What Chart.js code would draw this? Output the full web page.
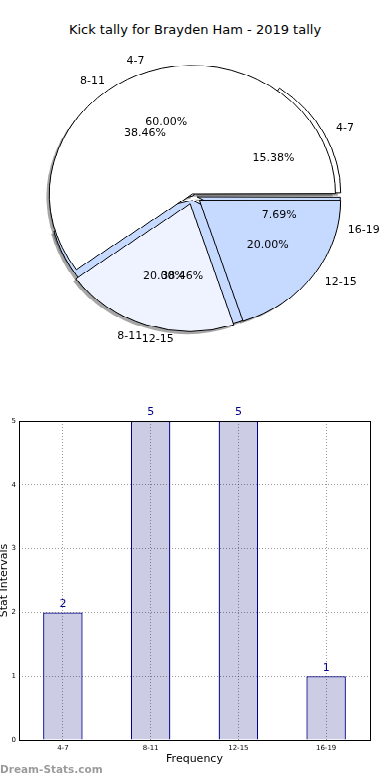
<!DOCTYPE html>
<html><head><meta charset="utf-8">
<script src="https://cdn.jsdelivr.net/npm/chart.js@4"></script>
<style>
html,body{margin:0;padding:0;background:#fff;width:390px;height:780px;overflow:hidden;position:relative;font-family:'DejaVu Sans',sans-serif}
#title{position:absolute;top:22px;left:0;width:390px;text-align:center;font-size:13px;color:#000;line-height:16px;white-space:nowrap}
#pieWrap{position:absolute;left:0;top:43px;width:390px;height:340px;transform:scaleY(0.9);transform-origin:0 0}
#pieWrap canvas{position:absolute;left:0;top:0}
#pieText{position:absolute;left:0;top:0}
#barCanvas{position:absolute;left:0;top:390px}
#wm{position:absolute;left:0;top:763px;font:bold 10.5px 'DejaVu Sans';color:rgba(0,0,0,0.4);white-space:nowrap}
</style></head>
<body>
<div id="title"></div>
<div id="pieWrap">
<canvas id="shadow1" width="390" height="340"></canvas>
<canvas id="shadow2" width="390" height="340"></canvas>
<canvas id="pie1" width="390" height="340"></canvas>
<canvas id="pie2" width="390" height="340"></canvas>
</div>
<canvas id="pieText" width="390" height="380"></canvas>
<canvas id="barCanvas" width="390" height="390"></canvas>
<div id="wm"></div>
<script>
// ---- data ----
const chartTitle = 'Kick tally for Brayden Ham - 2019 tally';
const categories = ['4-7', '8-11', '12-15', '16-19'];
const kickCounts = [2, 5, 5, 1];
const pie2Labels = ['4-7', '8-11', '12-15'];
const pie2Values = [3, 1, 1];
const yTickMax = 5;
const xAxisTitle = 'Frequency';
const yAxisTitle = 'Stat Intervals';
const watermark = 'Dream-Stats.com';
// ---- styles ----
const sliceColors = ['#ffffff', '#eef3ff', '#c6d9ff', '#c6d9ff'];
const explode1 = [0.045, 0, 0.035, 0.03];
const explode2 = [0.015, 0.065, 0.055];

document.getElementById('title').textContent = chartTitle;
document.getElementById('wm').textContent = watermark;
Chart.defaults.font.family = 'DejaVu Sans';

const R = 141, SY = 0.9, PIE_TOP = 43, CX = 193, CY = 170, W = 390, H = 340;
const rev = a => a.slice().reverse();

function makePie(id, labels, values, explode, shadow) {
  const dx = shadow ? -0.02 * R : 0, dy = shadow ? 0.02 * R : 0;
  return new Chart(document.getElementById(id), {
    type: 'pie',
    data: { labels: rev(labels), datasets: [{
      data: rev(values),
      backgroundColor: shadow ? 'rgba(77,77,77,0.5)' : rev(sliceColors.slice(0, values.length)),
      borderColor: shadow ? 'rgba(0,0,0,0)' : '#000',
      borderWidth: shadow ? 0 : 1,
      offset: rev(explode.map(e => 4 * e * R)),
      hoverOffset: 0,
      clip: false
    }]},
    options: {
      responsive: false, animation: false, events: [],
      rotation: 90, radius: R,
      layout: { padding: { left: 0, right: W - 2 * (CX + dx), top: 2 * dy, bottom: 0 } },
      plugins: { legend: { display: false }, tooltip: { enabled: false } }
    }
  });
}

makePie('shadow1', categories, kickCounts, explode1, true);
makePie('shadow2', pie2Labels, pie2Values, explode2, true);
const pie1 = makePie('pie1', categories, kickCounts, explode1, false);
const pie2 = makePie('pie2', pie2Labels, pie2Values, explode2, false);

const tctx = document.getElementById('pieText').getContext('2d');
function drawPieLabels(chart, labels, values) {
  const total = values.reduce((a, b) => a + b, 0);
  const meta = chart.getDatasetMeta(0);
  const n = labels.length;
  tctx.save();
  tctx.font = '11px "DejaVu Sans"';
  tctx.fillStyle = '#000';
  tctx.textBaseline = 'middle';
  meta.data.forEach((arc, j) => {
    const i = n - 1 - j;
    const p = arc.getProps(['x', 'y', 'startAngle', 'endAngle'], true);
    const mid = (p.startAngle + p.endAngle) / 2;
    const disp = (arc.options.offset || 0) / 4;
    const cx = p.x + Math.cos(mid) * disp, cy = p.y + Math.sin(mid) * disp;
    const lx = cx + Math.cos(mid) * 1.1 * R, ly = PIE_TOP + SY * (cy + Math.sin(mid) * 1.1 * R);
    tctx.textAlign = lx > p.x ? 'left' : 'right';
    tctx.fillText(labels[i], lx, ly);
    const px = cx + Math.cos(mid) * 0.6 * R, py = PIE_TOP + SY * (cy + Math.sin(mid) * 0.6 * R);
    tctx.textAlign = 'center';
    tctx.fillText((100 * values[i] / total).toFixed(2) + '%', px, py);
  });
  tctx.restore();
}
drawPieLabels(pie1, categories, kickCounts);
drawPieLabels(pie2, pie2Labels, pie2Values);

// ---- bar chart ----
const barLabels = {
  id: 'barLabels',
  afterDraw(chart) {
    const ctx = chart.ctx;
    const a = chart.chartArea;
    ctx.save();
    ctx.strokeStyle = '#000';
    ctx.lineWidth = 1;
    ctx.strokeRect(Math.round(a.left) + 0.5, Math.round(a.top) + 0.5,
                   Math.round(a.right) - Math.round(a.left), Math.round(a.bottom) - Math.round(a.top));
    const meta = chart.getDatasetMeta(0);
    ctx.font = '11px "DejaVu Sans"';
    ctx.fillStyle = '#00008b';
    ctx.textAlign = 'center';
    ctx.textBaseline = 'bottom';
    meta.data.forEach((b, i) => ctx.fillText(String(kickCounts[i]), b.x, b.y - 3));
    ctx.restore();
  }
};
const gridColor = 'rgba(0,0,0,0.4)';
new Chart(document.getElementById('barCanvas'), {
  type: 'bar',
  data: { labels: categories, datasets: [{
    data: kickCounts,
    backgroundColor: 'rgb(204,204,228)',
    borderColor: '#00008b',
    borderWidth: 1.3,
    barPercentage: 0.45,
    categoryPercentage: 1
  }]},
  options: {
    responsive: false, animation: false, events: [],
    layout: { padding: { top: 31, right: 20, left: 0, bottom: 0 } },
    plugins: { legend: { display: false }, tooltip: { enabled: false } },
    scales: {
      x: {
        position: 'bottom', offset: true,
        grid: { display: true, offset: false, color: gridColor, lineWidth: 1, drawTicks: false, z: 1 },
        border: { display: false, dash: [1, 2] },
        ticks: { font: { size: 7 }, color: '#000', padding: 4, maxRotation: 0 },
        title: { display: true, text: xAxisTitle, font: { size: 11 }, color: '#000', padding: { top: 0, bottom: 14 } },
        afterFit: s => { s.height = 40; }
      },
      y: {
        position: 'left', min: 0, max: yTickMax,
        grid: { display: true, color: gridColor, lineWidth: 1, drawTicks: false, z: 1 },
        border: { display: false, dash: [1, 2] },
        ticks: { stepSize: 1, font: { size: 7 }, color: '#000', padding: 3 },
        title: { display: true, text: yAxisTitle, font: { size: 11 }, color: '#000', padding: { top: -2, bottom: 0 } },
        afterFit: s => { s.width = 19; }
      }
    }
  },
  plugins: [barLabels]
});
</script>
</body></html>
